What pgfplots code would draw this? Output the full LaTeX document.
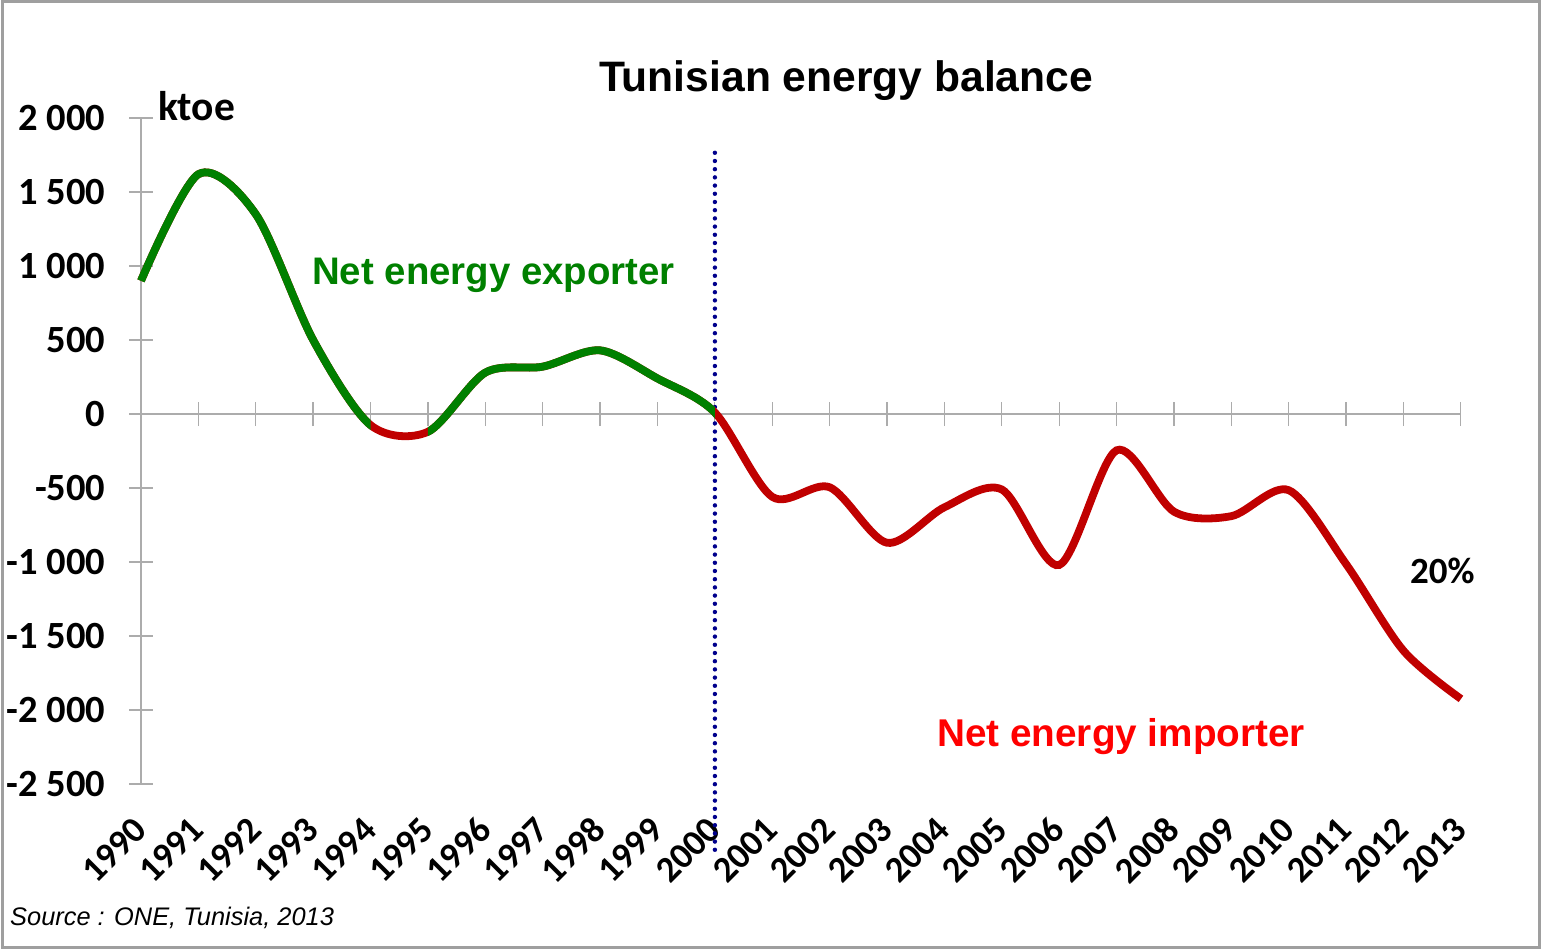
\documentclass[border=0pt]{standalone}
\usepackage{fontspec}
\setmainfont{Liberation Sans}
\newfontfamily\carlito{Carlito}
\usepackage{pgfplots}
\usepackage{pgfplotstable}
\pgfplotsset{compat=1.18}
\definecolor{lgreen}{HTML}{008000}
\definecolor{lred}{HTML}{C00000}
\definecolor{tred}{HTML}{FF0000}
\definecolor{navy}{HTML}{00008C}
\pgfplotstableread{
year val
1990 900
1991 1620
1992 1350
1993 500
1994 -75
1995 -120
1996 280
1997 320
1998 430
1999 240
2000 10
2001 -560
2002 -495
2003 -870
2004 -630
2005 -510
2006 -1020
2007 -245
2008 -660
2009 -690
2010 -515
2011 -1015
2012 -1600
2013 -1925
}\balance
\begin{document}
\begin{tikzpicture}[x=1pt,y=1pt]
\useasboundingbox (0,0) rectangle (1541,-950);
\draw[line width=3pt, gray!75] (2,-1.5) rectangle (1539,-947);
\begin{axis}[
  at={(141pt,-784pt)}, anchor=south west,
  scale only axis, width=1320pt, height=666pt,
  xmin=1990, xmax=2013, ymin=-2500, ymax=2000,
  clip=false,
  axis x line=middle, axis y line=left,
  hide obscured x ticks=false, hide obscured y ticks=false,
  axis line style={-, gray!65, line width=1.3pt},
  tick style={gray!65, line width=1.3pt},
  major tick length=24pt, tick align=center,
  xtick={1990,...,2013},
  xticklabels={1990,1991,1992,1993,1994,1995,1996,1997,1998,1999,2000,2001,2002,2003,2004,2005,2006,2007,2008,2009,2010,2011,2012,2013},
  ytick={-2500,-2000,-1500,-1000,-500,0,500,1000,1500,2000},
  yticklabels={-2 500,-2 000,-1 500,-1 000,-500,0,500,1 000,1 500,2 000},
  xticklabel style={font=\carlito\bfseries\fontsize{36.5}{36.5}\selectfont, text=black, rotate=45, anchor=east, inner sep=1pt},
  xticklabel shift=397pt,
  yticklabel style={font=\carlito\bfseries\fontsize{38.5}{38.5}\selectfont, text=black, anchor=east, xshift=-20pt},
]
\addplot[navy, line width=4.4pt, dash pattern=on 0pt off 8.2pt, line cap=round] coordinates {(2000,1765) (2000,-2960)};
\addplot[lred, line width=7.8pt, smooth] table[x=year,y=val] {\balance};
\begin{scope}
\clip (axis cs:1985,-4000) rectangle (axis cs:1994,3000);
\addplot[lgreen, line width=7.8pt, smooth] table[x=year,y=val] {\balance};
\end{scope}
\begin{scope}
\clip (axis cs:1995,-4000) rectangle (axis cs:2000,3000);
\addplot[lgreen, line width=7.8pt, smooth] table[x=year,y=val] {\balance};
\end{scope}
\end{axis}
\node[anchor=base, inner sep=0, font=\bfseries\fontsize{42.6}{42.6}\selectfont] at (846,-92) {Tunisian energy balance};
\node[anchor=base west, inner sep=0, font=\carlito\bfseries\fontsize{41.5}{41.5}\selectfont] at (158,-120) {ktoe};
\node[anchor=base west, inner sep=0, text=lgreen, font=\bfseries\fontsize{38.4}{38.4}\selectfont] at (312,-284) {Net energy exporter};
\node[anchor=base west, inner sep=0, text=tred, font=\bfseries\fontsize{38.7}{38.7}\selectfont] at (937,-746) {Net energy importer};
\node[anchor=base west, inner sep=0, font=\carlito\bfseries\fontsize{37}{37}\selectfont] at (1410,-583) {20\%};
\node[anchor=base west, inner sep=0, font=\itshape\fontsize{25.4}{25.4}\selectfont] at (10,-925) {Source : ONE, Tunisia, 2013};
\end{tikzpicture}
\end{document}
